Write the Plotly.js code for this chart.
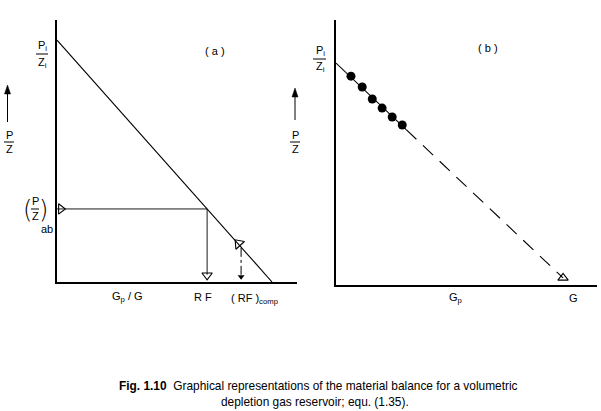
<!DOCTYPE html>
<html>
<head>
<meta charset="utf-8">
<script src="https://cdn.plot.ly/plotly-3.0.1.min.js"></script>
<style>html,body{margin:0;padding:0;background:#fff}#chart{width:601px;height:411px}</style>
</head>
<body>
<div id="chart"></div>
<script>
// ---- Data (panel a: p/z vs Gp/G, normalised so Pi/Zi = 1 and G = 1) ----
const lineAx = [0, 1];
const lineAy = [1, 0];
const pzAb = 0.302;      // (p/Z)ab abandonment value
const rf = 0.698;        // recovery factor
const rfComp = 0.856;    // recovery factor with compression
const rfCompPz = 0.153;  // p/Z at compression abandonment

// ---- Data (panel b: p/z vs Gp) ----
const gpObs = [0.064, 0.112, 0.155, 0.197, 0.240, 0.283];
const pzObs = [0.941, 0.892, 0.838, 0.797, 0.757, 0.721];
const fitSolidX = [0, 0.30];
const fitSolidY = [1, 0.70];
const fitDashX = [0.30, 0.970];
const fitDashY = [0.70, 0.032];
const gIntercept = [0.970];
const gInterceptPz = [0.032];

// ---- Labels ----
const xLabelsA = ['G<sub>p</sub> / G', 'R F'];
const xLabelsAX = [0.33, 0.679];
const rfCompLabel = '( RF )<sub>comp</sub>';
const xLabelsB = ['G<sub>p</sub>', 'G'];
const xLabelsBX = [0.509, 1.013];
const caption1 = '<b>Fig. 1.10</b>  Graphical representations of the material balance for a volumetric';
const caption2 = 'depletion gas reservoir; equ. (1.35).';

const W = 601, H = 411;
const px = x => x / W;
const py = y => 1 - y / H;
const FONT = 'Liberation Sans, Arial, sans-serif';
const K = '#000';
const FS = 11;

const traces = [
  // panel a
  {x: lineAx, y: lineAy, xaxis: 'x', yaxis: 'y', mode: 'lines', line: {color: K, width: 1.1}},
  {x: [0, rf, rf], y: [pzAb, pzAb, 0.03], xaxis: 'x', yaxis: 'y', mode: 'lines', line: {color: K, width: 0.9}},
  {x: [0.018], y: [pzAb], xaxis: 'x', yaxis: 'y', mode: 'markers', cliponaxis: false,
   marker: {symbol: 'triangle-right-open', size: 9, color: K, line: {width: 1.1, color: K}}},
  {x: [rf], y: [0.028], xaxis: 'x', yaxis: 'y', mode: 'markers', cliponaxis: false,
   marker: {symbol: 'triangle-down-open', size: 9, color: K, line: {width: 1.1, color: K}}},
  {x: [rfComp - 0.012], y: [rfCompPz + 0.006], xaxis: 'x', yaxis: 'y', mode: 'markers', cliponaxis: false,
   marker: {symbol: 'triangle-up-open', size: 10, angle: -42, color: K, line: {width: 1.1, color: K}}},
  {x: [rfComp, rfComp], y: [rfCompPz - 0.012, 0.03], xaxis: 'x', yaxis: 'y', mode: 'lines',
   line: {color: K, width: 1, dash: 'dashdot'}},
  {x: [rfComp], y: [0.022], xaxis: 'x', yaxis: 'y', mode: 'markers', cliponaxis: false,
   marker: {symbol: 'triangle-down', size: 6, color: K}},
  // panel b
  {x: fitSolidX, y: fitSolidY, xaxis: 'x2', yaxis: 'y2', mode: 'lines', line: {color: K, width: 1.1}},
  {x: fitDashX, y: fitDashY, xaxis: 'x2', yaxis: 'y2', mode: 'lines', line: {color: K, width: 1.1, dash: '14px,9px'}},
  {x: gpObs, y: pzObs, xaxis: 'x2', yaxis: 'y2', mode: 'markers', cliponaxis: false,
   marker: {symbol: 'circle', size: 9, color: K}},
  {x: gIntercept, y: gInterceptPz, xaxis: 'x2', yaxis: 'y2', mode: 'markers', cliponaxis: false,
   marker: {symbol: 'triangle-up-open', size: 9, color: K, line: {width: 1.1, color: K}}}
];

const axCommon = {showgrid: false, zeroline: false, showticklabels: false, ticks: '',
  showline: true, linecolor: K, linewidth: 1.6, fixedrange: true};

const txt = (text, x, y, size, extra) => Object.assign({
  text, x: px(x), y: py(y), xref: 'paper', yref: 'paper', showarrow: false,
  xanchor: 'center', yanchor: 'middle', font: {family: FONT, size: size || FS, color: K}
}, extra || {});

const parenFont = {family: 'DejaVu Sans, sans-serif', size: 24, color: K, weight: 300};
const annotations = [
  // panel a axis labels
  txt('P<sub>i</sub>', 36, 46, FS, {xanchor: 'left'}),
  txt('Z<sub>i</sub>', 36, 63, FS, {xanchor: 'left'}),
  txt('P', 9, 135, FS), txt('Z', 9, 149, FS),
  txt('(', 27, 210, 24, {font: parenFont}),
  txt(')', 43, 210, 24, {font: parenFont}),
  txt('P', 35, 201, FS), txt('Z', 35, 216, FS),
  txt('ab', 47, 229, FS),
  txt('( a )', 215, 51, FS),
  // panel b axis labels
  txt('P<sub>i</sub>', 314, 51, FS, {xanchor: 'left'}),
  txt('Z<sub>i</sub>', 314, 67, FS, {xanchor: 'left'}),
  txt('P', 295, 135, FS), txt('Z', 295, 149, FS),
  txt('( b )', 488, 48, FS),
  // caption
  txt(caption1, 318, 386, 11.9),
  txt(caption2, 315, 402, 11.9)
];
xLabelsA.forEach((t, i) => annotations.push({text: t, x: xLabelsAX[i], xref: 'x', y: py(297), yref: 'paper',
  showarrow: false, xanchor: 'center', yanchor: 'middle', font: {family: FONT, size: FS, color: K}}));
annotations.push({text: rfCompLabel, x: 0.80, xref: 'x', y: py(299), yref: 'paper',
  showarrow: false, xanchor: 'left', yanchor: 'middle', font: {family: FONT, size: FS, color: K}});
xLabelsB.forEach((t, i) => annotations.push({text: t, x: xLabelsBX[i], xref: 'x2', y: py(298), yref: 'paper',
  showarrow: false, xanchor: 'center', yanchor: 'middle', font: {family: FONT, size: FS, color: K}}));

const bar = (x0, x1, y) => ({type: 'line', xref: 'paper', yref: 'paper', x0: px(x0), x1: px(x1), y0: py(y), y1: py(y),
  line: {color: K, width: 1}});
const vline = (x, y0, y1) => ({type: 'line', xref: 'paper', yref: 'paper', x0: px(x), x1: px(x), y0: py(y0), y1: py(y1),
  line: {color: K, width: 1}});
const head = (x, y) => ({type: 'path', xref: 'paper', yref: 'paper',
  path: `M ${px(x)} ${py(y)} L ${px(x - 3)} ${py(y + 9)} L ${px(x + 3)} ${py(y + 9)} Z`,
  fillcolor: K, line: {color: K, width: 0.5}});
const shapes = [
  bar(36, 48, 54), bar(4, 14, 142), bar(31, 39, 209), bar(313, 326, 59), bar(290, 300, 142),
  vline(7.5, 122, 90), head(7.5, 85),
  vline(295, 120, 93), head(295, 88)
];

const layout = {
  width: W, height: H, margin: {l: 0, r: 0, t: 0, b: 0},
  paper_bgcolor: '#fff', plot_bgcolor: 'rgba(0,0,0,0)', showlegend: false,
  xaxis: Object.assign({}, axCommon, {domain: [px(57), px(297)], range: [0, 1.116], anchor: 'y'}),
  yaxis: Object.assign({}, axCommon, {domain: [py(282), py(20)], range: [0, 1.083], anchor: 'x'}),
  xaxis2: Object.assign({}, axCommon, {domain: [px(336), px(597)], range: [0, 1.115], anchor: 'y2'}),
  yaxis2: Object.assign({}, axCommon, {domain: [py(285), py(20)], range: [0, 1.194], anchor: 'x2'}),
  annotations, shapes
};

Plotly.newPlot('chart', traces, layout, {staticPlot: true, displayModeBar: false});
</script>
</body>
</html>
